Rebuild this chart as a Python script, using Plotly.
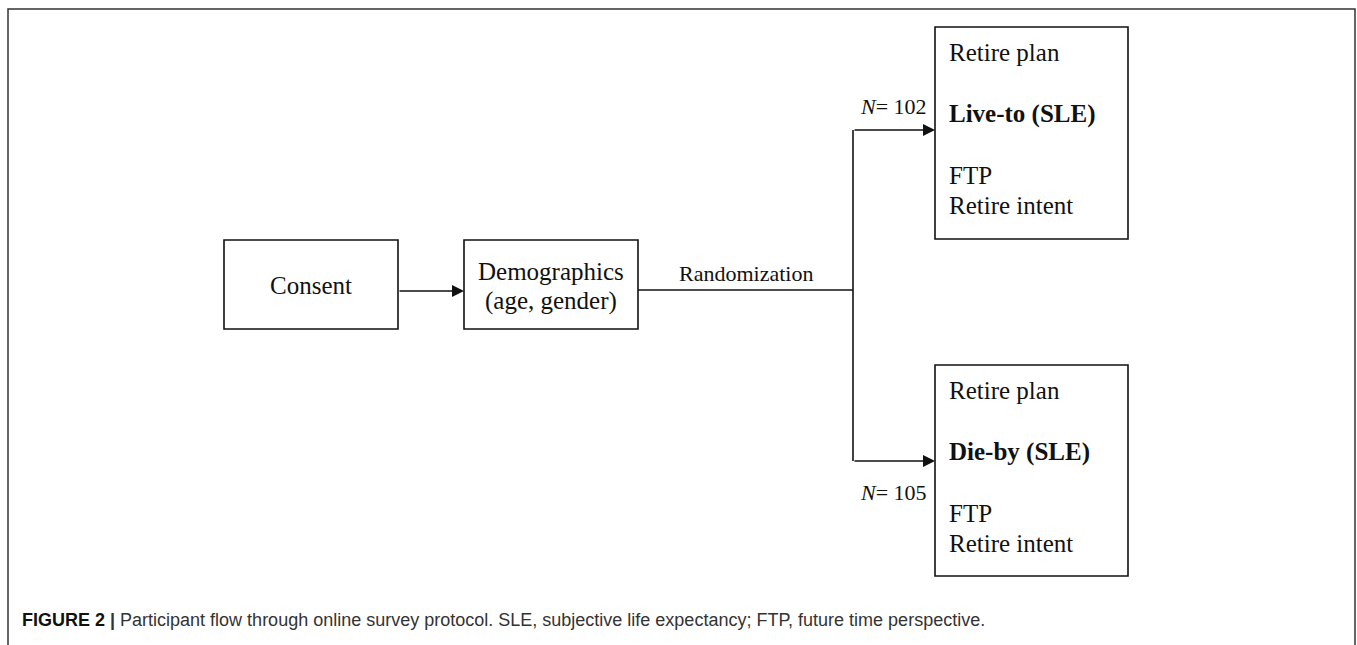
import plotly.graph_objects as go

# ---- content ----
steps = ["Consent", "Demographics", "(age, gender)"]
link_label = "Randomization"
groups = ["Live-to (SLE)", "Die-by (SLE)"]
group_n = [102, 105]
measure_first = "Retire plan"
measures_last = ["FTP", "Retire intent"]
caption_bold = "FIGURE 2"
caption_text = ("Participant flow through online survey protocol. SLE, subjective life "
                "expectancy; FTP, future time perspective.")

# ---- layout geometry (pixels) ----
W, H = 1357, 645
SERIF = "Liberation Serif, Times New Roman, serif"
BOXFONT = dict(family=SERIF, size=25, color="#111")
LINE = dict(color="#111", width=1.6)
ARROW = dict(text="", showarrow=True, arrowhead=2, arrowsize=1.6, arrowwidth=1.5, arrowcolor="#111", standoff=0,
             xref="x", yref="y", axref="x", ayref="y")

fig = go.Figure()
fig.add_trace(go.Scatter(x=[0, W], y=[0, H], mode="markers", marker=dict(opacity=0), hoverinfo="skip", showlegend=False))

shapes = []
annotations = []

# outer frame
shapes.append(dict(type="rect", x0=8, y0=9, x1=1355, y1=660, line=dict(color="#333", width=1.5)))

# consent & demographics boxes
consent_box = (224, 240, 398, 329)
demo_box = (464, 240, 638, 329)
for b in (consent_box, demo_box):
    shapes.append(dict(type="rect", x0=b[0], y0=b[1], x1=b[2], y1=b[3], line=LINE))
annotations.append(dict(x=(consent_box[0] + consent_box[2]) / 2, y=285, text=steps[0], showarrow=False, font=BOXFONT))
annotations.append(dict(x=(demo_box[0] + demo_box[2]) / 2, y=271, text=steps[1], showarrow=False, font=BOXFONT))
annotations.append(dict(x=(demo_box[0] + demo_box[2]) / 2, y=301, text=steps[2], showarrow=False, font=BOXFONT))

# arrow consent -> demographics
annotations.append(dict(x=demo_box[0], y=291, ax=consent_box[2], ay=291, **ARROW))

# randomization line & split
split_x = 853
shapes.append(dict(type="line", x0=demo_box[2], y0=290, x1=split_x, y1=290, line=LINE))
shapes.append(dict(type="line", x0=split_x, y0=130, x1=split_x, y1=461, line=LINE))
annotations.append(dict(x=746, y=273, text=link_label, showarrow=False, font=dict(family=SERIF, size=22, color="#111")))

# group boxes
group_boxes = [(935, 27, 1128, 239), (935, 365, 1128, 576)]
arrow_y = [130, 461]
n_label_y = [106, 492]
for i, b in enumerate(group_boxes):
    shapes.append(dict(type="rect", x0=b[0], y0=b[1], x1=b[2], y1=b[3], line=LINE))
    annotations.append(dict(x=b[0], y=arrow_y[i], ax=split_x, ay=arrow_y[i], **ARROW))
    annotations.append(dict(x=b[0] - 6, y=n_label_y[i], xanchor="right", text=f"<i>N</i>= {group_n[i]}", showarrow=False,
                            font=dict(family=SERIF, size=22, color="#111")))
    tx = b[0] + 12
    top = b[1]
    annotations.append(dict(x=tx, y=top + 25, xanchor="left", text=measure_first, showarrow=False, font=BOXFONT))
    annotations.append(dict(x=tx, y=top + 87, xanchor="left", text=f"<b>{groups[i]}</b>", showarrow=False, font=BOXFONT))
    annotations.append(dict(x=tx, y=top + 148, xanchor="left", text=measures_last[0], showarrow=False, font=BOXFONT))
    annotations.append(dict(x=tx, y=top + 178, xanchor="left", text=measures_last[1], showarrow=False, font=BOXFONT))

# caption
annotations.append(dict(x=20, y=620, xanchor="left", showarrow=False,
                        text=f"<b><span style='color:#111'>{caption_bold}</span> |</b> {caption_text}",
                        font=dict(family="Liberation Sans, Arial, sans-serif", size=18, color="#333")))

for a in annotations:
    a.setdefault("xref", "x")
    a.setdefault("yref", "y")

fig.update_layout(
    width=W, height=H, margin=dict(l=0, r=0, t=0, b=0),
    paper_bgcolor="white", plot_bgcolor="white",
    xaxis=dict(range=[0, W], visible=False, fixedrange=True),
    yaxis=dict(range=[H, 0], visible=False, fixedrange=True),
    shapes=shapes, annotations=annotations, showlegend=False,
)
fig.write_html("out.html", config={"displayModeBar": False},
               post_script="document.body.style.margin='0';document.body.style.overflow='hidden';")
